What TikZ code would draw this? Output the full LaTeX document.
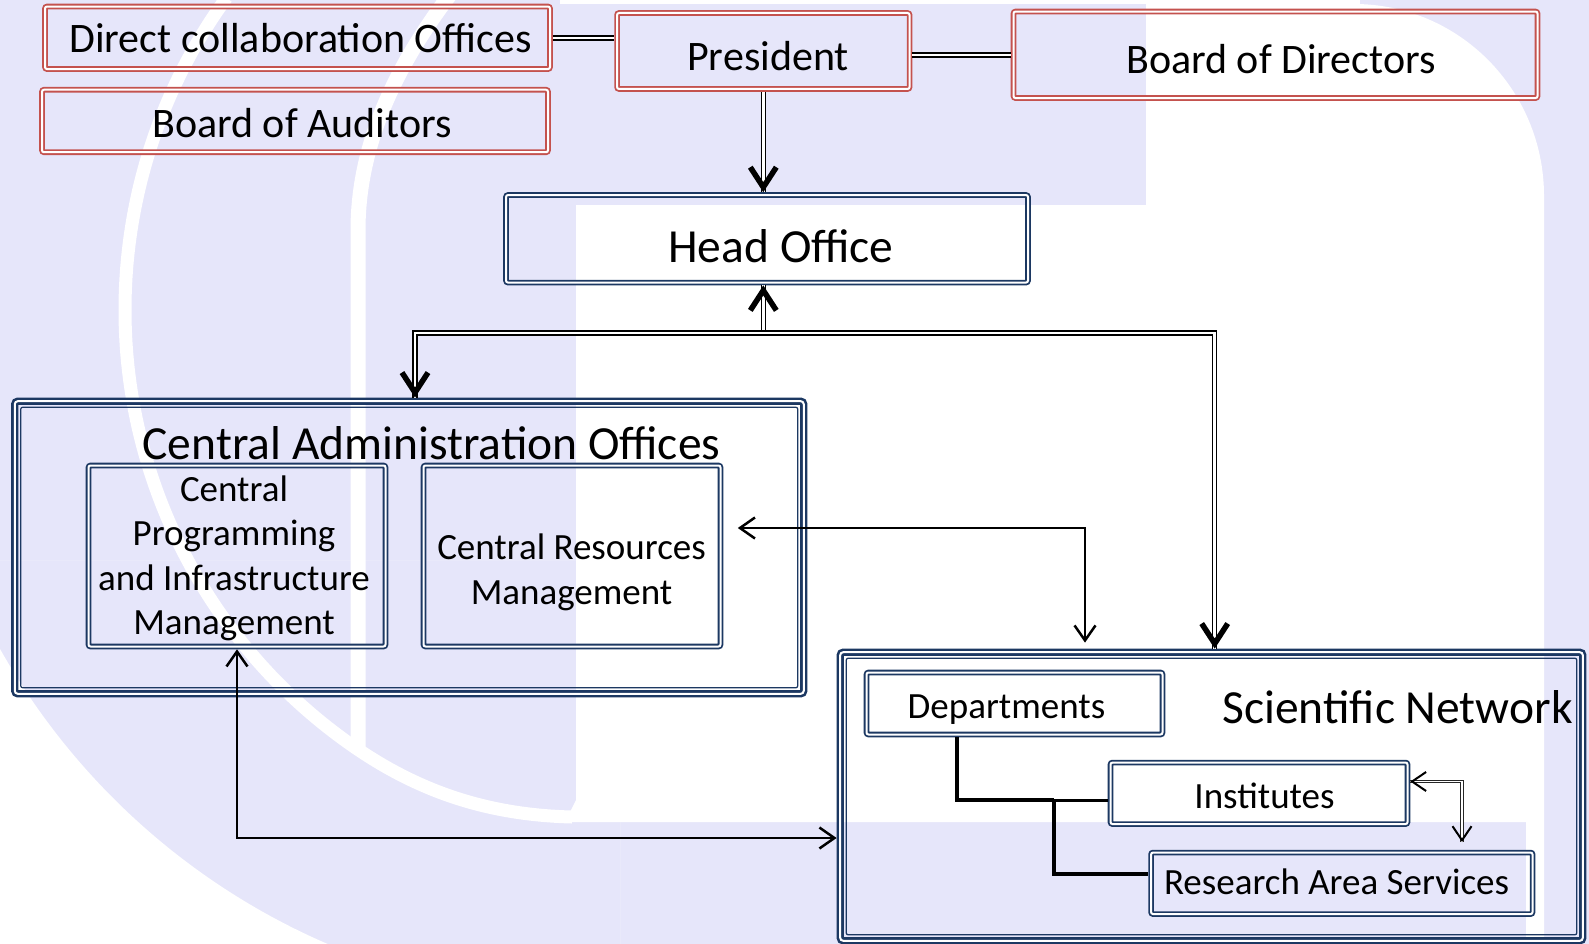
\documentclass[tikz,border=0pt]{standalone}
\usepackage{fontspec}
\setmainfont{Carlito}
\usetikzlibrary{arrows.meta,calc}
\definecolor{lav}{RGB}{230,230,250}
\definecolor{boxred}{RGB}{196,82,78}
\definecolor{navy}{RGB}{28,56,98}
\tikzset{
  BigV/.tip={Straight Barb[length=20pt,width=26pt,line width=5.5pt]},
  SmallV/.tip={Straight Barb[length=15pt,width=21pt,line width=2.5pt]},
  TinyV/.tip={Straight Barb[length=14pt,width=19pt,line width=2pt]},
}
\begin{document}
\begin{tikzpicture}[x=1pt,y=-1pt,
  every node/.style={inner sep=0pt, outer sep=0pt},
  redbox/.style={draw=boxred, line width=1.8pt, double=white, double distance=2pt, rounded corners=2pt, outer sep=2.8pt},
  bluebox/.style={draw=navy, line width=1.8pt, double=white, double distance=2pt, rounded corners=2pt, outer sep=2.8pt},
  bigbox/.style={draw=navy, line width=2.6pt, double=white, double distance=2pt, rounded corners=3pt, outer sep=3.6pt},
  innerline/.style={draw=navy, line width=1.2pt, rounded corners=2pt},
  tA/.style={font=\fontsize{42}{50}\selectfont, text height=31.9pt, text depth=5pt},
  tB/.style={font=\fontsize{47.5}{57}\selectfont, text height=36.1pt, text depth=5.7pt},
  tC/.style={font=\fontsize{37}{44.6}\selectfont, text height=28.1pt, text depth=4.4pt},
  tM/.style={font=\fontsize{37}{44.6}\selectfont, align=center},
  dbl/.style={draw=black, line width=1.5pt, double=white, double distance=2.5pt},
  thindbl/.style={draw=black!85, line width=1pt, double=white, double distance=1.8pt},
  tipline/.style={line width=1pt},
  link/.style={line width=2.6pt},
  tree/.style={line width=4pt},
]
\useasboundingbox (0,0) rectangle (1589,944);
\fill[lav] (0,0) rectangle (1589,944);

% ---- watermark ----
\fill[white] (560,0) rectangle (1360,4);
\fill[white] (576,205) -- (1146,205) -- (1146,4) -- (1354,4)
  .. controls (1459,4) and (1544,90) .. (1544,196) -- (1544,944) -- (1526,944)
  -- (1526,822) -- (565,822) -- (576,800) -- cycle;
\draw[white, line width=13pt] (656,310) ++(216:531) arc[start angle=216, end angle=125, radius=531]
  .. controls (420,793) and (490,815) .. (572,817);
\draw[white, line width=15pt] (358,752) -- (358,230) .. controls (358,140) and (400,60) .. (452,-8);
\begin{scope}
  \clip (-5,560) rectangle (620,950);
  \fill[white, even odd rule] (-5,560) rectangle (620,950) (600,312) circle[radius=688];
\end{scope}

% ---- boxes ----
\node[redbox, minimum width=505pt, minimum height=62.5pt] (DCO) at (297.5,37.8) {};
\node[redbox, minimum width=506pt, minimum height=62.5pt] (BoA) at (295,121) {};
\node[redbox, minimum width=292.5pt, minimum height=76pt] (Pres) at (763.3,51) {};
\node[redbox, minimum width=524pt, minimum height=86.5pt] (BoD) at (1275.5,54.8) {};
\node[bluebox, minimum width=522pt, minimum height=87.5pt] (HO) at (767,238.8) {};
\node[bigbox, minimum width=789pt, minimum height=292.6pt] (CAO) at (409.25,547.5) {};
\draw[innerline] ($(CAO.north west)+(9.6,9.6)$) rectangle ($(CAO.south east)+(-9.6,-9.6)$);
\node[bluebox, minimum width=297pt, minimum height=181pt] (CPIM) at (237,556) {};
\node[bluebox, minimum width=297pt, minimum height=181pt] (CRM) at (572,556) {};
\node[bigbox, minimum width=742.6pt, minimum height=288.6pt] (SN) at (1211.5,796.5) {};
\draw[innerline] ($(SN.north west)+(9.6,9.6)$) rectangle ($(SN.south east)+(-9.6,-9.6)$);
\node[bluebox, minimum width=296pt, minimum height=62pt] (Dep) at (1014.5,703.5) {};
\node[bluebox, minimum width=297pt, minimum height=61.5pt] (Inst) at (1259,793.3) {};
\node[bluebox, minimum width=381.5pt, minimum height=61.5pt] (RAS) at (1341.8,883.3) {};

% ---- texts ----
\node[tA] (DCOt) at (300.5,39.5) {Direct collaboration Offices};
\node[tA] (BoAt) at (302,123.6) {Board of Auditors};
\node[tA] (Prest) at (768,56.7) {President};
\node[tA] (BoDt) at (1281,59.8) {Board of Directors};
\node[tB] (HOt) at (781,247.4) {Head Office};
\node[tB] (CAOt) at (431.5,444) {Central Administration Offices};
\node[tB] (SNt) at (1397.5,708) {Scientific Network};
\node[tC] (Dept) at (1006.5,706.5) {Departments};
\node[tC] (Instt) at (1264.5,796.5) {Institutes};
\node[tC] (RASt) at (1336.5,882.3) {Research Area Services};
\node[tM] (CPIMt) at (234,558.4) {Central\\Programming\\and Infrastructure\\Management};
\node[tM] (CRMt) at (571.5,572.3) {Central Resources\\Management};

% ---- connectors ----
\draw[dbl] (DCO.east) -- (DCO.east -| Pres.west);
\draw[dbl] (BoD.west -| Pres.east) -- (BoD.west);

\draw[dbl] (Pres.south) -- (Pres.south |- HO.north);
\draw[tipline, -{BigV}] ($(Pres.south |- HO.north)+(0,-3)$) -- (Pres.south |- HO.north);

\coordinate (J) at (763.3,333);
\coordinate (JL) at (415,333);
\coordinate (JR) at (1214.7,333);
\draw[dbl] (J) -- (J |- HO.south);
\draw[dbl] (JL |- CAO.north) -- (JL) -- (JR) -- (JR |- SN.north);
\draw[tipline, -{BigV}] ($(J |- HO.south)+(0,3)$) -- (J |- HO.south);
\draw[tipline, -{BigV}] ($(JL |- CAO.north)+(0,-3)$) -- (JL |- CAO.north);
\draw[tipline, -{BigV}] ($(JR |- SN.north)+(0,-3)$) -- (JR |- SN.north);

\coordinate (K) at (1085,528);
\draw[link, {SmallV}-{SmallV}, shorten <=6pt, shorten >=14.5pt] (K |- SN.north) -- (K) -- (CRM.east |- K);

\coordinate (M) at (237,838);
\draw[link, {SmallV}-{SmallV}] (CPIM.south) -- (M) -- (M -| SN.west);

\coordinate (T1) at (957,800);
\coordinate (T2) at (1054,800);
\coordinate (T3) at (1054,874);
\draw[tree] (Dep.south -| T1) -- (T1) -- (T2);
\draw[line width=3pt] (T2) -- (T2 -| Inst.west);
\draw[tree] (T2) -- (T3) -- (T3 -| RAS.west);

\coordinate (Q) at (1462,781.5);
\coordinate (Qb) at (1462,842);
\draw[thindbl] (Inst.east |- Q) -- (Q) -- (Qb);
\draw[tipline, -{TinyV}] ($(Inst.east |- Q)+(3,0)$) -- (Inst.east |- Q);
\draw[tipline, -{TinyV}] ($(Qb)+(0,-3)$) -- (Qb);
\end{tikzpicture}
\end{document}
